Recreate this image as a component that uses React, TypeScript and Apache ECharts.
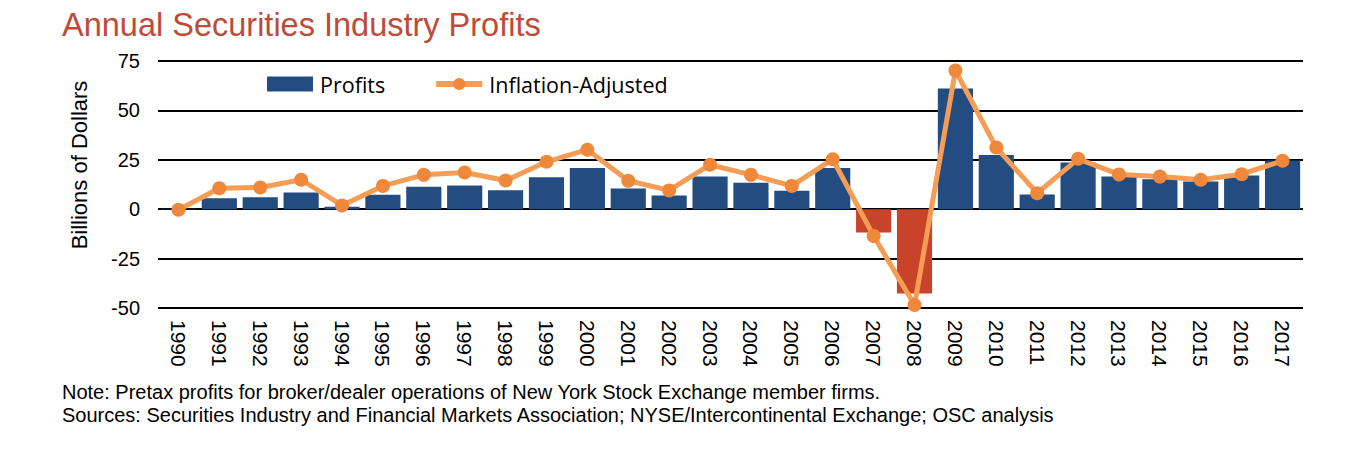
import React, { useEffect, useRef } from "react";
import * as echarts from "echarts";

const years = ["1990","1991","1992","1993","1994","1995","1996","1997","1998","1999","2000","2001","2002","2003","2004","2005","2006","2007","2008","2009","2010","2011","2012","2013","2014","2015","2016","2017"];
const profits = [0.2,5.6,6.1,8.4,1.2,7.3,11.3,12.0,9.6,16.2,20.9,10.5,6.9,16.6,13.4,9.3,20.8,-11.8,-42.6,61.1,27.4,7.4,23.6,16.5,15.2,14.0,17.0,24.6];
const inflationAdjusted = [-0.3,10.6,11.0,14.9,1.9,11.8,17.4,18.6,14.5,24.0,30.1,14.4,9.5,22.5,17.4,11.8,25.3,-13.5,-48.5,70.2,31.2,8.1,25.5,17.6,16.5,14.9,17.7,24.5];
const yTicks = { min: -50, max: 75, interval: 25 };

const titleText = "Annual Securities Industry Profits";
const yAxisTitle = "Billions of Dollars";
const noteText = "Note: Pretax profits for broker/dealer operations of New York Stock Exchange member firms.";
const sourceText = "Sources: Securities Industry and Financial Markets Association; NYSE/Intercontinental Exchange; OSC analysis";

const BLUE = "#234C80";
const RED = "#C9432A";
const ORANGE_LINE = "#F59C55";
const ORANGE_DOT = "#EF883A";
const FONT = "'Liberation Sans', Arial, sans-serif";

export default function App() {
  const ref = useRef<HTMLDivElement>(null);
  useEffect(() => {
    if (!ref.current) return;
    const chart = echarts.init(ref.current, null, { renderer: "svg" });
    chart.setOption({
      animation: false,
      backgroundColor: "#ffffff",
      title: {
        text: titleText,
        left: 49,
        top: -5,
        textStyle: { fontFamily: FONT, fontSize: 32.5, fontWeight: "normal", color: "#BE4B3A" },
      },
      legend: {
        left: 254,
        top: 60,
        itemWidth: 46,
        itemHeight: 15,
        itemGap: 48,
        textStyle: { fontFamily: "'Open Sans', sans-serif", fontSize: 21.5, color: "#000", padding: [0, 0, 0, 2] },
        data: [
          { name: "Profits", icon: "rect", itemStyle: { color: BLUE } },
          {
            name: "Inflation-Adjusted",
            lineStyle: { width: 6, color: ORANGE_LINE },
            itemStyle: { color: ORANGE_DOT },
          },
        ],
      },
      grid: { left: 150, right: 49, top: 53, bottom: 149, containLabel: false },
      xAxis: {
        type: "category",
        data: years,
        axisLine: { show: false },
        axisTick: { show: false },
        axisLabel: { rotate: -90, fontFamily: FONT, fontSize: 21, color: "#000", margin: 12 },
      },
      yAxis: {
        type: "value",
        min: yTicks.min,
        max: yTicks.max,
        interval: yTicks.interval,
        axisLine: { show: false },
        axisTick: { show: false },
        axisLabel: { fontFamily: FONT, fontSize: 20, color: "#000", margin: 18 },
        splitLine: { lineStyle: { color: "#000", width: 2 } },
      },
      series: [
        {
          name: "Profits",
          type: "bar",
          data: profits,
          barCategoryGap: "14%",
          itemStyle: {
            color: (p: any) => (p.value < 0 ? RED : BLUE),
          },
        },
        {
          name: "Inflation-Adjusted",
          type: "line",
          data: inflationAdjusted,
          symbol: "circle",
          symbolSize: 14,
          lineStyle: { color: ORANGE_LINE, width: 5 },
          itemStyle: { color: ORANGE_DOT },
          z: 5,
        },
      ],
      graphic: [
        {
          type: "text",
          x: 71,
          y: 157,
          rotation: Math.PI / 2,
          style: {
            text: yAxisTitle,
            fontFamily: FONT,
            fontSize: 22,
            fill: "#000",
            align: "center",
            verticalAlign: "middle",
          },
        },
        {
          type: "text",
          left: 54,
          top: 374,
          style: { text: noteText, fontFamily: FONT, fontSize: 20, fill: "#000" },
        },
        {
          type: "text",
          left: 54,
          top: 397,
          style: { text: sourceText, fontFamily: FONT, fontSize: 20, fill: "#000" },
        },
      ],
    });
    return () => chart.dispose();
  }, []);
  return <div ref={ref} style={{ width: 1344, height: 449 }} />;
}
